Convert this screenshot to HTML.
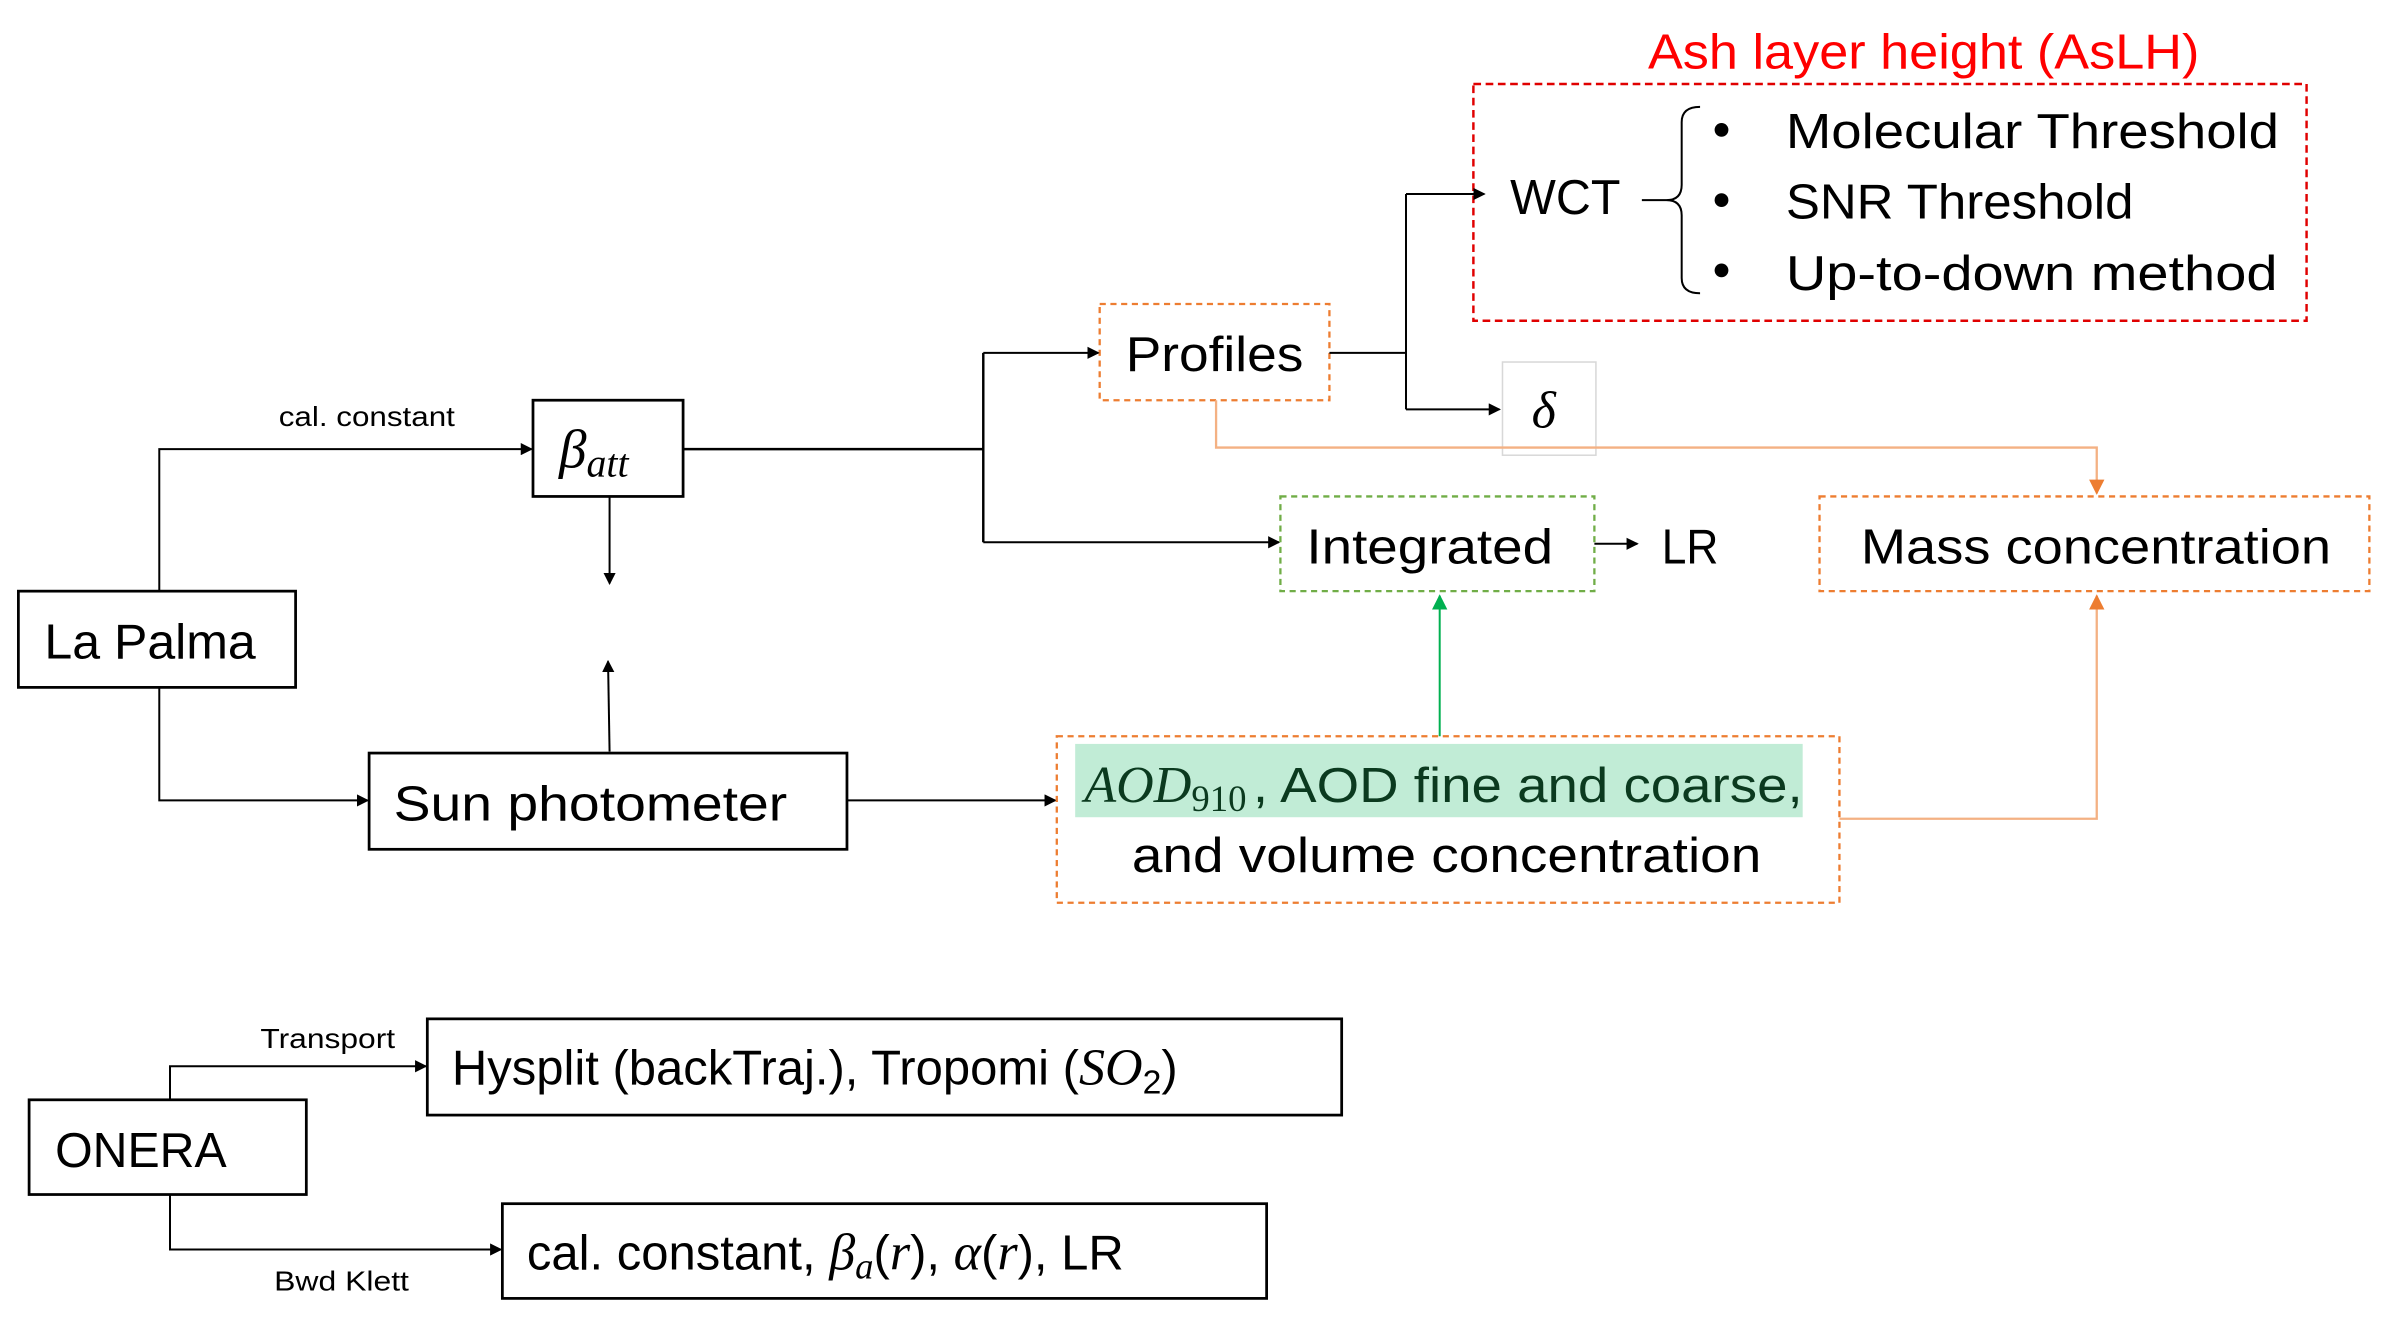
<!DOCTYPE html>
<html><head><meta charset="utf-8"><style>
html,body{margin:0;padding:0;background:#fff;width:2400px;height:1332px;overflow:hidden}
svg{display:block}
text{font-family:"Liberation Sans",sans-serif;}
.s{font-family:"Liberation Serif",serif;font-style:italic}
</style></head><body>
<svg width="2400" height="1332" viewBox="0 0 1567 872" preserveAspectRatio="none" xmlns="http://www.w3.org/2000/svg">
<defs>
<marker id="ab" markerWidth="8" markerHeight="8" refX="7" refY="4" orient="auto" markerUnits="userSpaceOnUse"><path d="M0,0 L8,4 L0,8 z" fill="#000"/></marker>
<marker id="ao" markerWidth="10" markerHeight="10" refX="9" refY="5" orient="auto" markerUnits="userSpaceOnUse"><path d="M0,0 L10,5 L0,10 z" fill="#ed7d31"/></marker>
<marker id="ag" markerWidth="10" markerHeight="10" refX="9" refY="5" orient="auto" markerUnits="userSpaceOnUse"><path d="M0,0 L10,5 L0,10 z" fill="#00b050"/></marker>
</defs>
<g fill="none" stroke-width="1.3">
<rect x="962" y="55" width="544" height="155" stroke="#e00000" stroke-dasharray="5,3" stroke-width="1.6"/>
<path d="M1072,131 L1088,131 Q1098,131 1098,121 L1098,80 Q1098,70 1110,70 M1098,141 Q1098,131 1088,131 M1098,141 L1098,182 Q1098,192 1110,192" stroke="#000"/>
<rect x="718" y="199" width="150" height="63" stroke="#ed7d31" stroke-dasharray="4,3" stroke-width="1.5"/>
<rect x="981" y="237" width="61" height="61" stroke="#d8d8d8" stroke-width="1"/>
<path d="M868,231 L918,231 M918,127 L918,268" stroke="#000"/>
<path d="M918,127 L969,127" stroke="#000" marker-end="url(#ab)"/>
<path d="M918,268 L979,268" stroke="#000" marker-end="url(#ab)"/>
<path d="M794,262 L794,293 L1369,293 L1369,323" stroke="#f4b183" stroke-width="1.5" marker-end="url(#ao)"/>
<rect x="1188" y="325" width="359" height="62" stroke="#ed7d31" stroke-dasharray="4,3" stroke-width="1.5"/>
<rect x="348" y="262" width="98" height="63" stroke="#000" stroke-width="1.8"/>
<path d="M104,387 L104,294 L347,294" stroke="#000" marker-end="url(#ab)"/>
<path d="M446,294 L642,294 M642,231 L642,355" stroke="#000" stroke-width="1.6"/>
<path d="M642,231 L717,231" stroke="#000" marker-end="url(#ab)"/>
<path d="M642,355 L835,355" stroke="#000" marker-end="url(#ab)"/>
<path d="M398,325 L398,382" stroke="#000" marker-end="url(#ab)"/>
<path d="M398,492 L397,433" stroke="#000" marker-end="url(#ab)"/>
<rect x="12" y="387" width="181" height="63" stroke="#000" stroke-width="1.8"/>
<path d="M104,450 L104,524 L240,524" stroke="#000" marker-end="url(#ab)"/>
<rect x="241" y="493" width="312" height="63" stroke="#000" stroke-width="1.8"/>
<path d="M553,524 L689,524" stroke="#000" marker-end="url(#ab)"/>
<rect x="836" y="325" width="205" height="62" stroke="#70ad47" stroke-dasharray="4,3" stroke-width="1.5"/>
<path d="M1041,356 L1069,356" stroke="#000" marker-end="url(#ab)"/>
<path d="M940,482 L940,390" stroke="#00b050" marker-end="url(#ag)"/>
<rect x="702" y="487" width="475" height="48" fill="#c1ecd6" stroke="none"/>
<rect x="690" y="482" width="511" height="109" stroke="#ed7d31" stroke-dasharray="4,3" stroke-width="1.5"/>
<path d="M1201,536 L1369,536 L1369,390" stroke="#f4b183" stroke-width="1.5" marker-end="url(#ao)"/>
<rect x="279" y="667" width="597" height="63" stroke="#000" stroke-width="1.8"/>
<rect x="19" y="720" width="181" height="62" stroke="#000" stroke-width="1.8"/>
<path d="M111,720 L111,698 L278,698" stroke="#000" marker-end="url(#ab)"/>
<path d="M111,782 L111,818 L327,818" stroke="#000" marker-end="url(#ab)"/>
<rect x="328" y="788" width="499" height="62" stroke="#000" stroke-width="1.8"/>
</g>
<g fill="#000" font-size="32">
<text x="1076" y="45" fill="#ff0000" textLength="360" lengthAdjust="spacingAndGlyphs">Ash layer height (AsLH)</text>
<text x="986" y="140" textLength="72" lengthAdjust="spacingAndGlyphs">WCT</text>
<circle cx="1124" cy="85" r="4.5"/><circle cx="1124" cy="131" r="4.5"/><circle cx="1124" cy="177" r="4.5"/>
<text x="1166" y="97" textLength="322" lengthAdjust="spacingAndGlyphs">Molecular Threshold</text>
<text x="1166" y="143" textLength="227" lengthAdjust="spacingAndGlyphs">SNR Threshold</text>
<text x="1166" y="190" textLength="321" lengthAdjust="spacingAndGlyphs">Up-to-down method</text>
<text x="735" y="243" textLength="116" lengthAdjust="spacingAndGlyphs">Profiles</text>
<text x="1000" y="280" class="s" font-size="34">δ</text>
<text x="1215" y="369" textLength="307" lengthAdjust="spacingAndGlyphs">Mass concentration</text>
<text x="365" y="306" class="s" font-size="36">β<tspan font-size="26" dy="6">att</tspan></text>
<text x="182" y="279" font-size="18" textLength="115" lengthAdjust="spacingAndGlyphs">cal. constant</text>
<text x="29" y="431" textLength="138" lengthAdjust="spacingAndGlyphs">La Palma</text>
<text x="257" y="537" textLength="257" lengthAdjust="spacingAndGlyphs">Sun photometer</text>
<text x="853" y="369" textLength="161" lengthAdjust="spacingAndGlyphs">Integrated</text>
<text x="1085" y="369" textLength="37" lengthAdjust="spacingAndGlyphs">LR</text>
<text x="708" y="525" fill="#0b3a1f"><tspan class="s" font-size="34">AOD</tspan><tspan font-size="24" dy="6" font-family="Liberation Serif">910</tspan></text>
<text x="818" y="525" fill="#0b3a1f" textLength="359" lengthAdjust="spacingAndGlyphs">, AOD fine and coarse,</text>
<text x="739" y="571" textLength="411" lengthAdjust="spacingAndGlyphs">and volume concentration</text>
<text x="170" y="686" font-size="18" textLength="88" lengthAdjust="spacingAndGlyphs">Transport</text>
<text x="295" y="710">Hysplit (backTraj.), Tropomi (<tspan class="s" font-size="34">SO</tspan><tspan font-size="22" dy="6">2</tspan><tspan dy="-6">)</tspan></text>
<text x="36" y="764" textLength="112" lengthAdjust="spacingAndGlyphs">ONERA</text>
<text x="344" y="831">cal. constant, <tspan class="s" font-size="34">β</tspan><tspan class="s" font-size="24" dy="6">a</tspan><tspan dy="-6">(</tspan><tspan class="s" font-size="34">r</tspan>), <tspan class="s" font-size="34">α</tspan>(<tspan class="s" font-size="34">r</tspan>), LR</text>
<text x="179" y="845" font-size="18" textLength="88" lengthAdjust="spacingAndGlyphs">Bwd Klett</text>
</g>
</svg>
</body></html>
